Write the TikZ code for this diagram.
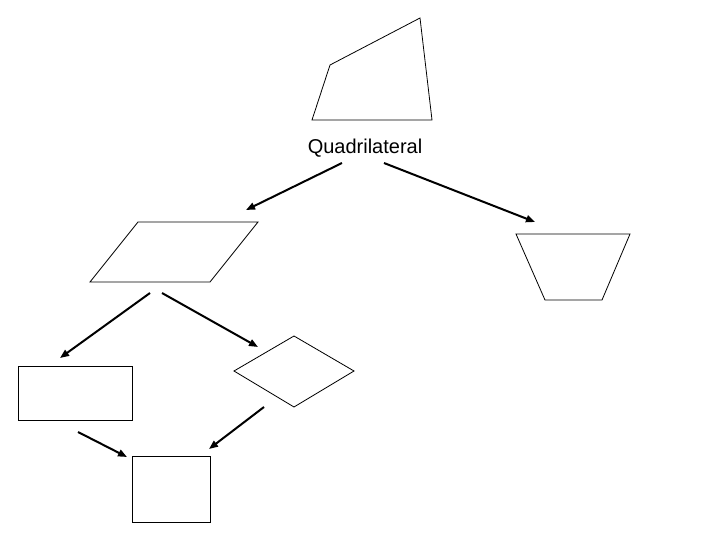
\documentclass[tikz,border=0pt]{standalone}
\usepackage{fontspec}
\setmainfont{Liberation Sans}
\usetikzlibrary{arrows.meta}
\begin{document}
\begin{tikzpicture}[x=1pt,y=-1pt,
  outline/.style={draw=black, line width=0.8pt, line join=miter},
  link/.style={-{Triangle[length=9pt,width=7pt]}, line width=2pt},
  lbl/.style={font=\fontsize{20}{24}\selectfont}]
  \useasboundingbox (0,0) rectangle (720,540);
  % quadrilateral
  \coordinate (q1) at (312,120); \coordinate (q2) at (330,65);
  \coordinate (q3) at (420,18);  \coordinate (q4) at (432,120);
  \draw[outline] (q1) -- (q2) -- (q3) -- (q4) -- cycle;
  \node[lbl] (quad) at (365,148) {Quadrilateral};
  % parallelogram
  \coordinate (p1) at (90,282);  \coordinate (p2) at (138,222);
  \coordinate (p3) at (258,222); \coordinate (p4) at (210,282);
  \draw[outline] (p1) -- (p2) -- (p3) -- (p4) -- cycle;
  % trapezoid
  \coordinate (t1) at (516,234); \coordinate (t2) at (630,234);
  \coordinate (t3) at (602,300); \coordinate (t4) at (545,300);
  \draw[outline] (t1) -- (t2) -- (t3) -- (t4) -- cycle;
  % rectangle
  \coordinate (r1) at (18,366);  \coordinate (r2) at (132,420);
  \draw[outline] (r1) rectangle (r2);
  % rhombus
  \coordinate (h1) at (234,371); \coordinate (h2) at (294,336);
  \coordinate (h3) at (354,371); \coordinate (h4) at (294,407);
  \draw[outline] (h1) -- (h2) -- (h3) -- (h4) -- cycle;
  % square
  \coordinate (s1) at (132,456); \coordinate (s2) at (210,522);
  \draw[outline] (s1) rectangle (s2);
  % arrow ends
  \coordinate (a1s) at (342,163); \coordinate (a1e) at (246,210);
  \coordinate (a2s) at (384,163); \coordinate (a2e) at (535,222);
  \coordinate (a3s) at (150,293); \coordinate (a3e) at (60,358);
  \coordinate (a4s) at (162,293); \coordinate (a4e) at (258,347);
  \coordinate (a5s) at (78,432);  \coordinate (a5e) at (127,457);
  \coordinate (a6s) at (264,407); \coordinate (a6e) at (209,449);
  \foreach \a in {1,...,6}{\draw[link] (a\a s) -- (a\a e);}
\end{tikzpicture}
\end{document}
